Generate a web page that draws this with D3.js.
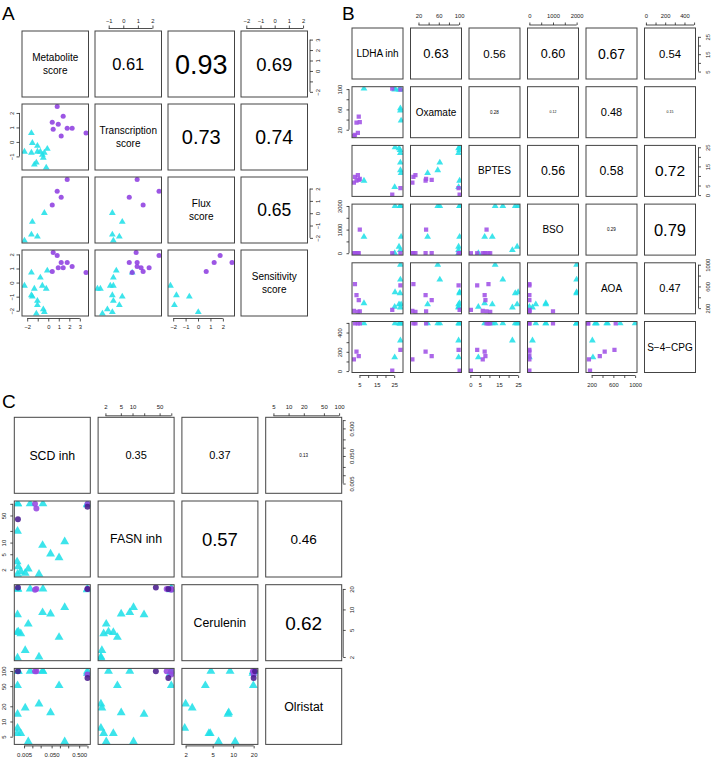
<!DOCTYPE html>
<html><head><meta charset="utf-8">
<script src="https://cdn.jsdelivr.net/npm/d3@7"></script>
<style>
body{margin:0;background:#fff}
svg{display:block}
text{font-family:"Liberation Sans",Arial,Helvetica,sans-serif;fill:#000}
</style>
</head><body>
<svg id="chart" width="712" height="759"></svg>
<script>
// ---------------- Panel A data ----------------
const aNames = [["Metabolite","score"],["Transcription","score"],["Flux","score"],["Sensitivity","score"]];
const aGroup = ["high","high","high","high","high","high","high","high","high",
  "low","low","low","low","low","low","low","low","low","low","low","low","low","low"];
const aMetabolite   = [0.85,0.38,1.42,0.95,0.47,1.80,2.27,1.23,3.59, -1.60,-1.51,-1.03,-0.09,-2.26,-1.60,-1.03,-0.75,-0.37,-0.56,-0.47,-1.13,-1.32,-0.19];
const aTranscription= [2.45,1.36,1.77,1.22,0.88,0.95,0.95,0.41,0.61, 0.61,-0.07,-0.27,-0.48,-0.68,-0.75,-0.68,-0.68,-0.75,-0.89,-1.09,-1.43,-1.57,-1.77];
const aFlux         = [1.78,0.66,null,null,null,2.74,null,1.30,null, null,-0.70,-1.90,null,-2.22,-1.74,null,null,0.02,null,null,null,null,null];
const aSensitivity  = [1.92,0.78,1.06,1.06,2.14,1.42,1.14,1.42,0.71, 0.71,-1.00,-1.60,0.85,-0.22,-0.90,-1.30,0.35,-2.10,-0.22,-1.90,-2.20,-0.44,-0.44];
const aCorr = ["0.61","0.93","0.69","0.73","0.74","0.65"];
const aTicks  = [[-2,-1,0,1,2,3],[-1,0,1,2],[-2,-1,0,1,2],[-2,-1,0,1,2]];
const aLabels = [[-2,0,1,2,3],[-1,0,1,2],[-2,-1,0,1,2],[-2,-1,0,1,2]];

// ---------------- Panel B data ----------------
const bNames = [["LDHA inh"],["Oxamate"],["BPTES"],["BSO"],["AOA"],["S\u22124\u2212CPG"]];
const bGroup = ["high","high","high","high","high","high","high","high",
  "low","low","low","low","low","low","low","low","low"];
const bLDHA    = [1.8,2.4,3.3,4.1,4.6,5.2,23.9,28.6, 7.6,25.5,28.4,28.6,28.6,28.6,29.0,25.3,27.8];
const bOxamate = [8,10,34,14,46,35,101,99, 101,101,101,62,58,99,38,99,99];
const bBPTES   = [6.5,9.5,7.5,10.4,7.9,8.5,0.3,3.6, 7.5,25,23.5,17,13,22,11.5,4.2,24.5];
const bBSO     = [0,0,0,0,0,1000,0,0, 695,2000,2000,2000,2000,131,695,0,272];
const bAOA     = [150,643,440,131,350,140,170,620, 290,494,476,725,1000,213,271,224,271];
const bS4CPG   = [121,495,201,495,156,495,5,219, 495,495,495,495,495,318,495,142,495];
const bCorr = ["0.63","0.56","0.60","0.67","0.54","0.28","0.12","0.48","0.15","0.56","0.58","0.72","0.29","0.79","0.47"];
const bTicks  = [[5,10,15,20,25],[20,40,60,80,100],[0,5,10,15,20,25],[0,500,1000,1500,2000],[200,400,600,800,1000],[0,100,200,300,400,500]];
const bLabels = [[5,15,25],[20,60,100],[0,5,15,25],[0,1000,2000],[200,600,1000],[0,200,400]];

// ---------------- Panel C data ----------------
const cNames = [["SCD inh"],["FASN inh"],["Cerulenin"],["Olristat"]];
const cGroup = ["low","low","low","low","low","low","low","low","low","low","low","low","low","low","low","low","low","low",
  "high","high","high","dark","dark"];
const cSCD  = [0.0174,0.0055,0.0029,0.093,0.0031,0.0235,0.0038,0.0028,0.0071,0.149,0.0457,0.0029,0.0083,0.0242,1.0,0.98,0.003,0.0029, 0.014,0.0125,1.0, 0.003,1.0];
const cFASN = [1.53,1.62,1.53,4.07,2.4,8.5,1.8,3.2,2.1,10.6,5.1,19.8,100,100,100,95,100,100, 76,100,100, 40,84];
const cCer  = [2.0,2.5,1.94,3.9,4.7,9.0,4.4,4.6,6.1,10.7,8.6,8.4,20,20,20,19.5,20,19.8, 20,19.5,20, 21,20];
const cOrl  = [22.3,18.6,7.4,51.5,99,99,5.8,5.8,4.0,4.0,15.0,14.0,99,99,99,90,99,51.5, 99,99,85, 99,73];
const cCorr = ["0.35","0.37","0.13","0.57","0.46","0.62"];
const cTicks  = [[0.005,0.01,0.02,0.05,0.1,0.2,0.5,1],[2,5,10,20,50,100],[2,5,10,20],[5,10,20,50,100]];
const cLabels = [[0.005,0.05,0.5],[2,5,10,50],[2,5,10,20],[5,10,20,50,100]];

// ---------------- drawing ----------------
const svg = d3.select("#chart");
const minus = s => String(s).replace(/-/g, "\u2212");

function padDomain(vals, log) {
  const v = vals.filter(d => d != null && isFinite(d));
  let [lo, hi] = d3.extent(v);
  if (log) { lo = Math.log10(lo); hi = Math.log10(hi); }
  const p = (hi - lo) * 0.04;
  lo -= p; hi += p;
  return log ? [Math.pow(10, lo), Math.pow(10, hi)] : [lo, hi];
}

function drawAxis(g, side, scale, ticks, labels, fmt, st, pos) {
  let axis;
  if (side === "top") axis = d3.axisTop(scale);
  else if (side === "bottom") axis = d3.axisBottom(scale);
  else if (side === "left") axis = d3.axisLeft(scale);
  else axis = d3.axisRight(scale);
  axis.tickValues(ticks).tickSize(st.tick).tickSizeOuter(0)
      .tickFormat(d => labels.indexOf(d) >= 0 ? fmt(d) : "");
  const tr = (side === "top" || side === "bottom") ? `translate(0,${pos})` : `translate(${pos},0)`;
  const ag = g.append("g").attr("transform", tr).call(axis)
    .attr("font-family", null).attr("font-size", st.tickFs).attr("color", "#222");
  ag.select(".domain").remove();
  ag.selectAll(".tick line").attr("stroke-width", 0.8);
  ag.selectAll(".tick text").style("fill", "#222");
  const ext = d3.extent(ticks).map(scale);
  const off = st.lab - st.gap;
  if (side === "top" || side === "bottom") {
    ag.append("line").attr("x1", ext[0]).attr("x2", ext[1]).attr("y1", 0).attr("y2", 0)
      .attr("stroke", "#222").attr("stroke-width", 0.8);
    ag.selectAll(".tick text").attr("y", side === "top" ? -off : off).attr("dy", "0.35em")
      .attr("text-anchor", "middle");
  } else {
    ag.append("line").attr("y1", ext[0]).attr("y2", ext[1]).attr("x1", 0).attr("x2", 0)
      .attr("stroke", "#222").attr("stroke-width", 0.8);
    ag.selectAll(".tick text").attr("transform", "rotate(-90)").attr("x", 0)
      .attr("y", side === "left" ? -off : off).attr("dy", "0.35em").attr("text-anchor", "middle");
  }
}

function pairs(opt) {
  const n = opt.vals.length;
  const g = svg.append("g");
  const sx = [], sy = [];
  const colL = i => opt.x0 + i * opt.px;
  const rowT = i => opt.y0 + i * opt.py;
  for (let i = 0; i < n; i++) {
    const dom = padDomain(opt.vals[i], opt.log);
    const mk = () => opt.log ? d3.scaleLog() : d3.scaleLinear();
    sx[i] = mk().domain(dom).range([colL(i), colL(i) + opt.w]);
    sy[i] = mk().domain(dom).range([rowT(i) + opt.h, rowT(i)]);
  }
  let k = 0;
  const order = opt.order;
  for (let i = 0; i < n; i++) {
    for (let j = 0; j < n; j++) {
      const x = colL(j), y = rowT(i);
      const cx = x + opt.w / 2, cy = y + opt.h / 2;
      if (i === j) {
        const lines = opt.names[i];
        lines.forEach((t, li) => {
          g.append("text").attr("x", cx)
            .attr("y", cy + (li - (lines.length - 1) / 2) * opt.lineH)
            .attr("dy", "0.35em").attr("text-anchor", "middle")
            .attr("font-size", opt.labelFs).text(t);
        });
      } else if (i < j) {
        g.append("text").attr("x", cx).attr("y", cy).attr("dy", "0.36em")
          .attr("text-anchor", "middle").attr("font-size", opt.corrFs[k]).text(opt.corr[k]);
        k++;
      } else {
        const pts = [];
        opt.group.forEach((gr, s) => {
          const vx = opt.vals[j][s], vy = opt.vals[i][s];
          if (vx != null && vy != null) pts.push({gr, vx, vy});
        });
        pts.sort((a, b) => order.indexOf(a.gr) - order.indexOf(b.gr));
        const clip = "clip" + opt.id + i + "_" + j;
        g.append("clipPath").attr("id", clip).append("rect")
          .attr("x", x).attr("y", y).attr("width", opt.w).attr("height", opt.h);
        g.append("g").attr("clip-path", `url(#${clip})`).selectAll("path").data(pts).join("path")
          .attr("transform", d => `translate(${sx[j](d.vx)},${sy[i](d.vy)})`)
          .attr("d", d => d3.symbol().type(opt.shape[d.gr]).size(opt.size[d.gr])())
          .attr("fill", d => opt.color[d.gr]).attr("fill-opacity", 0.88);
      }
      g.append("rect").attr("x", x).attr("y", y).attr("width", opt.w).attr("height", opt.h)
        .attr("fill", "none").attr("stroke", "#444").attr("stroke-width", 1);
    }
  }
  // axes, R pairs style alternation
  for (let j = 0; j < n; j++) {
    if (j % 2 === 0) drawAxis(g, "bottom", sx[j], opt.ticks[j], opt.labels[j], opt.fmt, opt, rowT(n - 1) + opt.h + opt.gap);
    else drawAxis(g, "top", sx[j], opt.ticks[j], opt.labels[j], opt.fmt, opt, rowT(0) - opt.gap);
  }
  for (let i = 0; i < n; i++) {
    if (i % 2 === 0) drawAxis(g, "right", sy[i], opt.ticks[i], opt.labels[i], opt.fmt, opt, colL(n - 1) + opt.w + opt.gap);
    else drawAxis(g, "left", sy[i], opt.ticks[i], opt.labels[i], opt.fmt, opt, colL(0) - opt.gap);
  }
  svg.append("text").attr("x", opt.letter[1]).attr("y", opt.letter[2])
    .attr("font-size", 19).text(opt.letter[0]);
}

const cyan = "#22e0e8";

pairs({
  id: "A", names: aNames, group: aGroup,
  vals: [aMetabolite, aTranscription, aFlux, aSensitivity],
  corr: aCorr, corrFs: [16.5, 27, 18.5, 20, 19.5, 17.5],
  ticks: aTicks, labels: aLabels, fmt: d => minus(d), log: false,
  x0: 22, y0: 31, px: 73, py: 73, w: 66.5, h: 66,
  labelFs: 10, lineH: 12.3, tickFs: 5.8, gap: 2.5, tick: 3, lab: 10.5,
  order: ["low", "high"],
  shape: {high: d3.symbolCircle, low: d3.symbolTriangle},
  size: {high: 20, low: 20},
  color: {high: "#8e3fe0", low: cyan},
  letter: ["A", 2, 19.5]
});

pairs({
  id: "B", names: bNames, group: bGroup,
  vals: [bLDHA, bOxamate, bBPTES, bBSO, bAOA, bS4CPG],
  corr: bCorr, corrFs: [13, 11.5, 12.5, 14, 11.3, 4.5, 3.5, 11, 3.5, 12.3, 12.3, 15.5, 4.5, 16.5, 11],
  ticks: bTicks, labels: bLabels, fmt: d => minus(d), log: false,
  x0: 352, y0: 28, px: 58.5, py: 58.7, w: 51, h: 51,
  labelFs: 10, lineH: 12, tickFs: 5.8, gap: 3, tick: 2.5, lab: 12,
  order: ["low", "high"],
  shape: {high: d3.symbolSquare, low: d3.symbolTriangle},
  size: {high: 18, low: 20},
  color: {high: "#a052e6", low: cyan},
  letter: ["B", 342, 19.5]
});

pairs({
  id: "C", names: cNames, group: cGroup,
  vals: [cSCD, cFASN, cCer, cOrl],
  corr: cCorr, corrFs: [11, 11, 4.5, 18.5, 13.5, 19],
  ticks: cTicks, labels: cLabels, fmt: d => d < 1 ? d3.format(".3f")(d) : String(d), log: true,
  x0: 14.3, y0: 417.3, px: 83.8, py: 83.7, w: 76, h: 76,
  labelFs: 12.3, lineH: 14, tickFs: 6, gap: 1.5, tick: 2.5, lab: 10.5,
  order: ["low", "high", "dark"],
  shape: {high: d3.symbolCircle, low: d3.symbolTriangle, dark: d3.symbolCircle},
  size: {high: 28, low: 34, dark: 28},
  color: {high: "#9747e0", low: cyan, dark: "#4b1d8f"},
  letter: ["C", 2, 408]
});
</script>
</body></html>
